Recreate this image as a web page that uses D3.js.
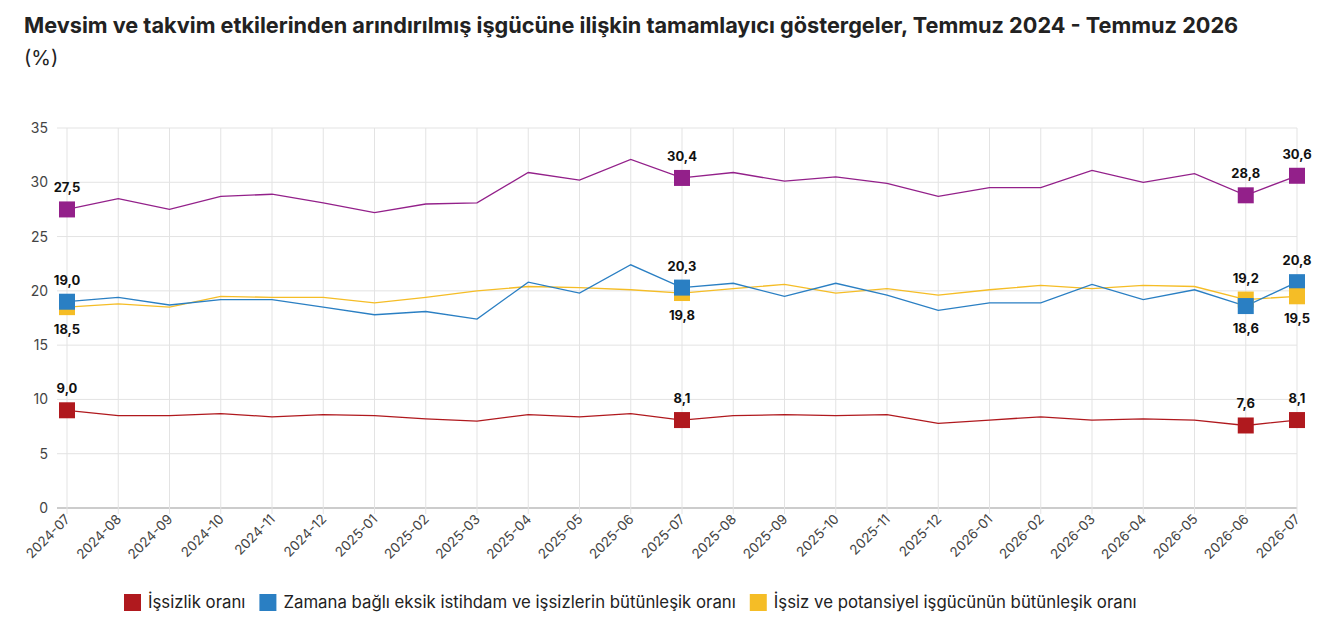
<!DOCTYPE html>
<html><head><meta charset="utf-8">
<script src="https://cdn.jsdelivr.net/npm/d3@7"></script>
<style>body{margin:0;background:#fff;font-family:Inter,"Noto Sans",sans-serif}</style>
</head><body><svg id="c" width="1337" height="621"></svg>
<script>
const months=["2024-07","2024-08","2024-09","2024-10","2024-11","2024-12","2025-01","2025-02","2025-03","2025-04","2025-05","2025-06","2025-07","2025-08","2025-09","2025-10","2025-11","2025-12","2026-01","2026-02","2026-03","2026-04","2026-05","2026-06","2026-07"];
const purple=[27.5,28.5,27.5,28.7,28.9,28.1,27.2,28.0,28.1,30.9,30.2,32.1,30.4,30.9,30.1,30.5,29.9,28.7,29.5,29.5,31.1,30.0,30.8,28.8,30.6];
const blue=[19.0,19.4,18.7,19.2,19.2,18.5,17.8,18.1,17.4,20.8,19.8,22.4,20.3,20.7,19.5,20.7,19.6,18.2,18.9,18.9,20.6,19.2,20.1,18.6,20.8];
const yellow=[18.5,18.8,18.5,19.5,19.4,19.4,18.9,19.4,20.0,20.4,20.3,20.1,19.8,20.2,20.6,19.8,20.2,19.6,20.1,20.5,20.2,20.5,20.4,19.2,19.5];
const red=[9.0,8.5,8.5,8.7,8.4,8.6,8.5,8.2,8.0,8.6,8.4,8.7,8.1,8.5,8.6,8.5,8.6,7.8,8.1,8.4,8.1,8.2,8.1,7.6,8.1];
const yTicks=[0,5,10,15,20,25,30,35];
const marked=[0,12,23,24];
const legendNames=["İşsizlik oranı","Zamana bağlı eksik istihdam ve işsizlerin bütünleşik oranı","İşsiz ve potansiyel işgücünün bütünleşik oranı"];
const svg=d3.select("#c");
svg.append("text").attr("x",24).attr("y",33).attr("font-size",21.7).attr("font-weight",700).attr("fill","#222").text("Mevsim ve takvim etkilerinden arındırılmış işgücüne ilişkin tamamlayıcı göstergeler, Temmuz 2024 - Temmuz 2026");
svg.append("text").attr("x",24).attr("y",65).attr("font-size",20).attr("fill","#222").text("(%)");
const x=d3.scalePoint().domain(months).range([67,1297]);
const y=d3.scaleLinear().domain([0,35]).range([508,128]);
const g=svg.append("g");
yTicks.forEach(t=>{g.append("line").attr("x1",57).attr("x2",1297).attr("y1",y(t)).attr("y2",y(t)).attr("stroke",t==0?"#999":"#e3e3e3");
g.append("text").attr("x",48).attr("y",y(t)+5).attr("text-anchor","end").attr("font-size",14).attr("fill","#444").text(t);});
months.forEach(m=>{g.append("line").attr("x1",x(m)).attr("x2",x(m)).attr("y1",128).attr("y2",514).attr("stroke","#e3e3e3");
g.append("text").attr("transform",`translate(${x(m)+4},${520}) rotate(-45)`).attr("text-anchor","end").attr("font-size",13.5).attr("fill","#444").text(m);});
const series=[{d:purple,c:"#93208a",pos:[-1,-1,-1,-1]},{d:red,c:"#b0191e",pos:[-1,-1,-1,-1]},{d:yellow,c:"#f5bd26",pos:[1,1,-1,1]},{d:blue,c:"#2a7fc3",pos:[-1,-1,1,-1]}];
const line=d3.line().x((v,i)=>x(months[i])).y(v=>y(v));
series.forEach(s=>g.append("path").attr("d",line(s.d)).attr("fill","none").attr("stroke",s.c).attr("stroke-width",1.3));
series.forEach(s=>marked.forEach(i=>{
 if(s===series[2]&&i===24) return;
 g.append("rect").attr("x",x(months[i])-8).attr("y",y(s.d[i])-8).attr("width",16).attr("height",16).attr("fill",s.c);}));
g.append("rect").attr("x",x(months[24])-8).attr("y",y(yellow[24])-8).attr("width",16).attr("height",16).attr("fill",series[2].c);
series.forEach(s=>marked.forEach((i,k)=>{
 const p=s.pos[k];
 g.append("text").attr("x",x(months[i])).attr("y",y(s.d[i])+(p<0?-17:27)).attr("text-anchor","middle").attr("font-size",13).attr("font-weight",700).attr("fill","#111").text(d3.format(".1f")(s.d[i]).replace(".",","));}));
const lc=["#b0191e","#2a7fc3","#f5bd26"];
const lg=svg.append("g");let lx=124;
legendNames.forEach((n,i)=>{lg.append("rect").attr("x",lx).attr("y",594).attr("width",17).attr("height",17).attr("fill",lc[i]);
const t=lg.append("text").attr("x",lx+24).attr("y",608).attr("font-size",16.8).attr("fill","#222").text(n);
lx+=24+t.node().getComputedTextLength()+14;});
</script></body></html>
